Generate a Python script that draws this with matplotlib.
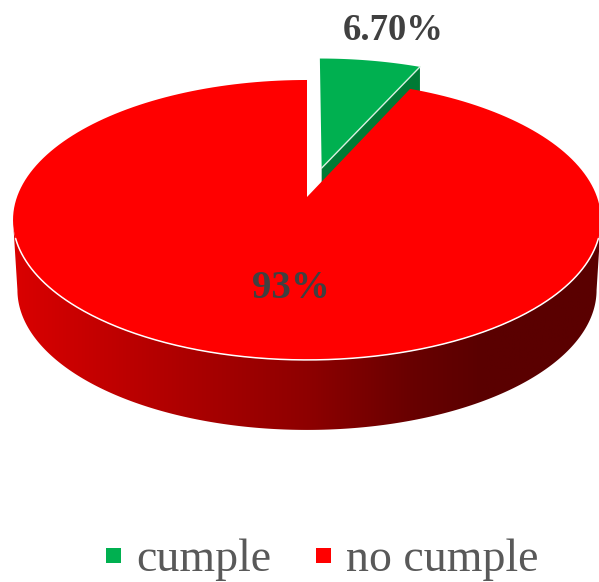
import numpy as np
import matplotlib
matplotlib.use('Agg')
import matplotlib.pyplot as plt
from matplotlib.colors import LinearSegmentedColormap
from matplotlib.lines import Line2D

categories = ['cumple', 'no cumple']
values = [6.7, 93.3]
labels = ['6.70%', '93%']
colors = ['#00b050', '#ff0000']
side_green = '#007a35'

# pie plane to picture (perspective so the back looks shorter)
cx, cy = 307.0, 197.0
B, A, P = 290.0, 136.2, 0.164
depth = 70
explode = 0.225


def project(u, v):
    w = 1 + P * v
    return cx + B * u / w, cy - A * v / w


def wedge(start, end, shift=0.0):
    # angles are clockwise from 12 o'clock, in radians
    mid = (start + end) / 2
    du, dv = shift * np.sin(mid), shift * np.cos(mid)
    th = np.linspace(start, end, 200)
    u = np.concatenate([[du], du + np.sin(th)])
    v = np.concatenate([[dv], dv + np.cos(th)])
    return project(u, v)


plt.rcParams['font.family'] = ['Liberation Serif', 'DejaVu Serif']
fig = plt.figure(figsize=(5.99, 5.82), dpi=100)
ax = fig.add_axes([0, 0, 1, 1])

angles = np.cumsum([0] + values) / sum(values) * 2 * np.pi

# green slice: cut face first, then the top
gx, gy = wedge(angles[0], angles[1], explode)
gx = gx + 1.5
ax.fill([gx[0], gx[-1], gx[-1], gx[0]],
        [gy[0], gy[-1], gy[-1] + depth, gy[0] + depth], color=side_green, lw=0, zorder=1)
ax.fill(gx, gy, color=colors[0], lw=0, zorder=2)
ax.plot([gx[0], gx[-1]], [gy[0], gy[-1]], color='#d8efe0', lw=1, zorder=3)

# red side with the left to right shading
th = np.linspace(0, 2 * np.pi, 721)
ex, ey = project(np.sin(th), np.cos(th))
front = ey > 220
fx, fy = ex[front], ey[front]
s = np.argsort(fx)
fx, fy = fx[s], fy[s]
bx = cx + (fx - cx) * 0.985
by = fy + depth
shade = LinearSegmentedColormap.from_list('side', [
    (0.0, '#da0000'), (0.32, '#a80000'), (0.5, '#8e0000'),
    (0.68, '#680000'), (0.8, '#5a0000'), (1.0, '#5a0000')])
im = ax.imshow(np.linspace(0, 1, 256).reshape(1, -1), cmap=shade, aspect='auto',
               extent=(13, 601, 440, 200), zorder=4)
clip = ax.fill(np.r_[fx, bx[::-1]], np.r_[fy, by[::-1]], color='none', lw=0, zorder=4)[0]
im.set_clip_path(clip)

# red top
rx, ry = wedge(angles[1], angles[2])
ax.fill(rx, ry, color=colors[1], lw=0, zorder=5)
rim = fy > 238
ax.plot(fx[rim], fy[rim], color='white', lw=1.1, zorder=6)

ax.text(393, 31, labels[0], fontsize=26.4, fontweight='bold', color='#404040',
        ha='center', va='center', zorder=7)
ax.text(291, 288, labels[1], fontsize=28, fontweight='bold', color='#404040',
        ha='center', va='center', zorder=7)

handles = [Line2D([], [], color=c, marker='s', ms=10.8, mew=0, ls='none') for c in colors]
ax.legend(handles, categories, loc='center', bbox_to_anchor=(322 / 599, 1 - 559.5 / 582),
          ncol=2, frameon=False, fontsize=33, labelcolor='#595959', numpoints=1,
          handlelength=0.33, handleheight=0.7, handletextpad=0.33, columnspacing=0.97,
          borderpad=0, borderaxespad=0)

ax.set_xlim(0, 599)
ax.set_ylim(582, 0)
ax.axis('off')
fig.savefig('out.png', dpi=100)
